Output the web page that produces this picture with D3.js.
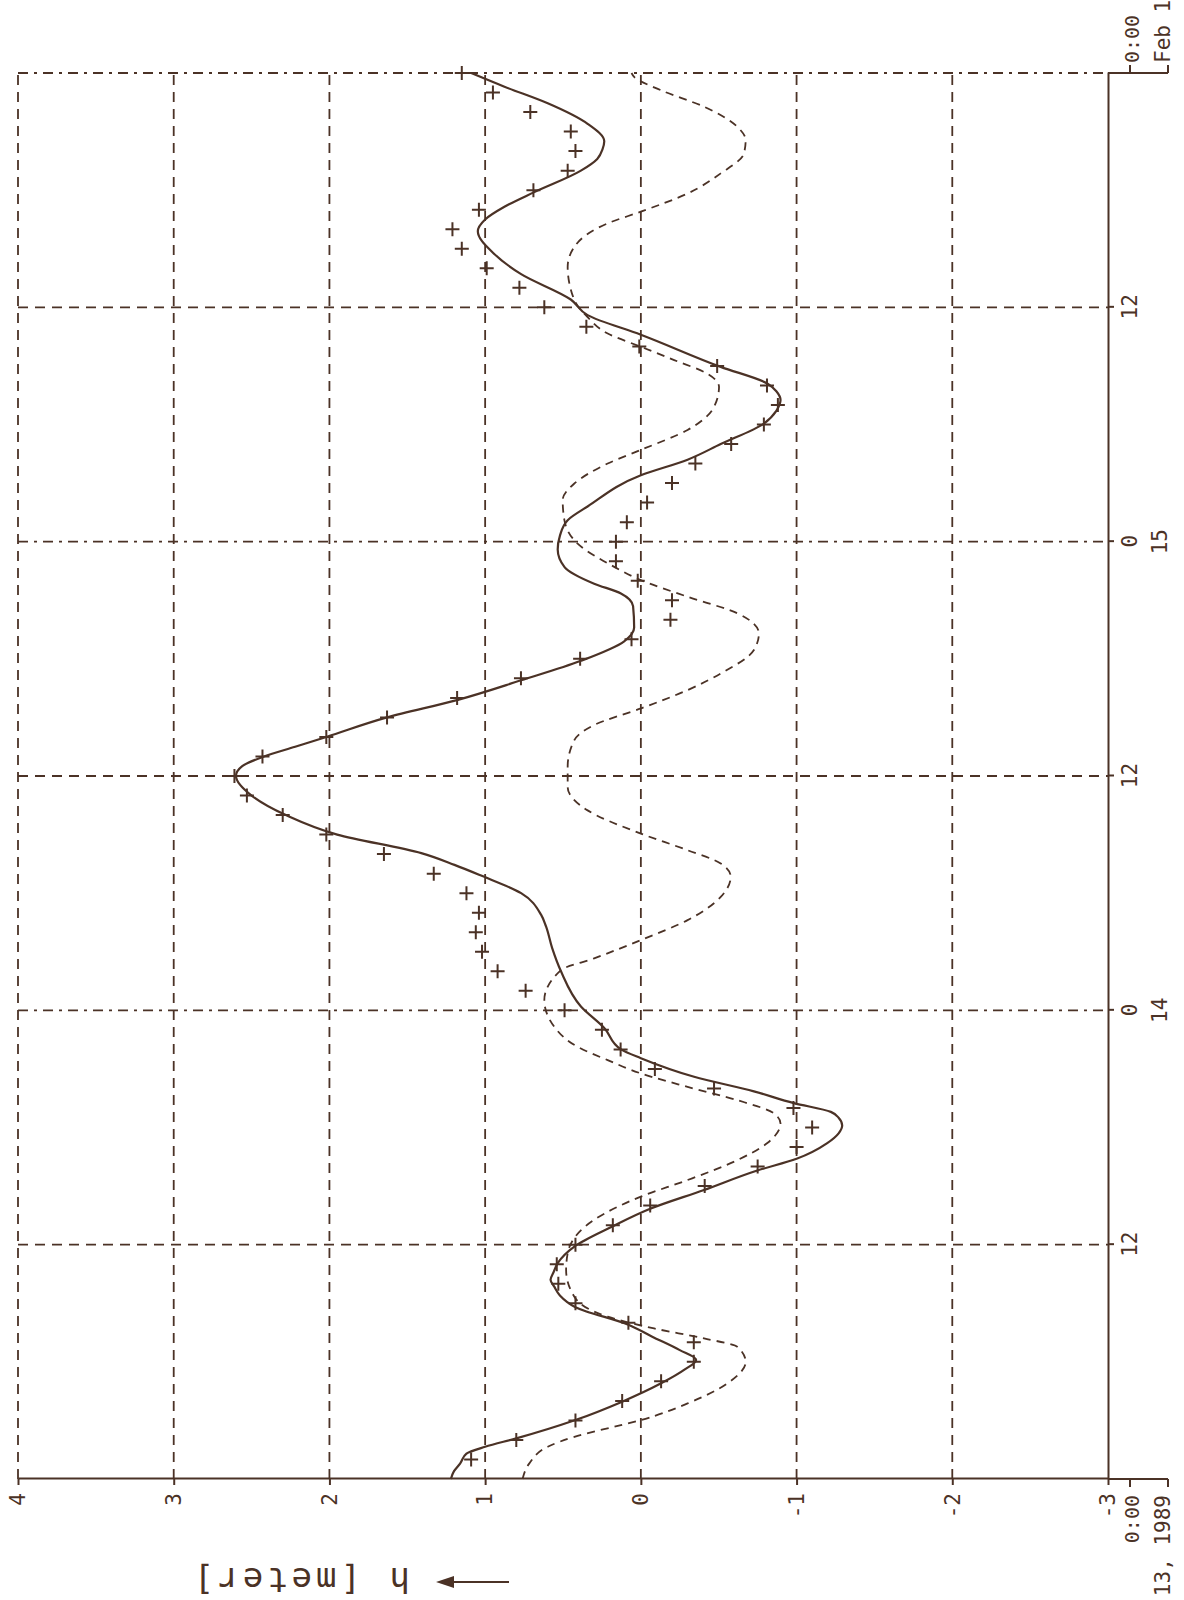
<!DOCTYPE html>
<html>
<head>
<meta charset="utf-8">
<script src="https://cdn.jsdelivr.net/npm/d3@7"></script>
<style>
	body { margin: 0; background: #fff; }
	svg { display: block; }
	text { font-family: "DejaVu Sans Mono", monospace; fill: #4b3226; }
</style>
</head>
<body>
<div id="chart"></div>
<script>
// water level h [m], Feb 13 - Feb 16 1989, hours counted from Feb 13 0:00

const levelTicks = [-3, -2, -1, 0, 1, 2, 3, 4];
const timeTicks = [0, 12, 24, 36, 48, 60, 72];
const timeLabels = ["0:00", "12", "0", "12", "0", "12", "0:00"];
const dayLabels = ["Feb 13, 1989", "", "14", "", "15", "", "Feb 16, 1989"];

// hourly observations (+)
const obsHours = [1, 2, 3, 4, 5, 6, 7, 8, 9, 10, 11, 12, 13, 14, 15, 16, 17, 18, 19, 20, 21, 22, 23, 24,
	25, 26, 27, 28, 29, 30, 31, 32, 33, 34, 35, 36, 37, 38, 39, 40, 41, 42, 43, 44, 45, 46, 47, 48,
	49, 50, 51, 52, 53, 54, 55, 56, 57, 58, 59, 60, 61, 62, 63, 64, 65, 66, 67, 68, 69, 70, 71, 72];
const obsLevel = [1.09, 0.80, 0.42, 0.12, -0.13, -0.34, -0.34, 0.08, 0.42, 0.53, 0.54, 0.42,
	0.18, -0.06, -0.41, -0.75, -1.00, -1.10, -0.98, -0.47, -0.09, 0.13, 0.25, 0.49,
	0.74, 0.92, 1.02, 1.06, 1.04, 1.12, 1.33, 1.65, 2.02, 2.30, 2.53, 2.61, 2.43, 2.02,
	1.63, 1.18, 0.77, 0.39, 0.06, -0.19, -0.20, 0.02, 0.16, 0.16, 0.09, -0.04,
	-0.20, -0.35, -0.58, -0.79, -0.88, -0.81, -0.49, 0.01, 0.35, 0.62, 0.78, 0.99,
	1.15, 1.21, 1.04, 0.69, 0.47, 0.42, 0.45, 0.71, 0.95, 1.15];

// computed water level (solid)
const modelHours = [0, 0.4, 0.8, 1.3, 1.65, 2.08, 3.02, 3.96, 4.9, 5.6, 6.1, 6.6, 7.3, 7.9, 8.8, 9.4,
	9.85, 10.2, 10.6, 11.05, 11.9, 12.9, 13.85, 14.8, 15.8, 16.4, 17.2, 17.7, 18.1, 18.5, 18.8,
	19.25, 19.85, 20.6, 21.55, 22.0, 23.1, 24.2, 26.0, 27.2, 28.3, 28.9, 30.0, 30.9, 31.45,
	32.05, 33, 34, 35, 36, 36.5, 37, 37.5, 38, 39, 39.9, 40.9, 41.9, 42.9, 43.6, 44.7, 45.35,
	45.85, 46.7, 47.6, 48.3, 49.1, 49.8, 51.4, 52.2, 53.0, 54.05, 54.7, 55.25, 55.7, 56.1,
	56.95, 58.6, 59.6, 60.4, 61.7, 62.8, 63.9, 64.5, 65.15, 65.9, 67.0, 67.6, 68.1, 68.5,
	69.4, 70.45, 71.3, 72];
const modelLevel = [1.22, 1.20, 1.16, 1.12, 1.00, 0.80, 0.42, 0.12, -0.13, -0.28, -0.355, -0.25,
	-0.07, 0.08, 0.42, 0.52, 0.556, 0.58, 0.56, 0.534, 0.427, 0.19, -0.064, -0.406, -0.748,
	-1.00, -1.197, -1.27, -1.293, -1.27, -1.22, -0.983, -0.726, -0.342, 0.0, 0.128, 0.235,
	0.385, 0.513, 0.57, 0.609, 0.641, 0.769, 1.026, 1.197, 1.41, 1.95, 2.28, 2.50, 2.60,
	2.56, 2.42, 2.22, 2.02, 1.63, 1.175, 0.769, 0.385, 0.107, 0.043, 0.05, 0.128, 0.30,
	0.49, 0.534, 0.52, 0.47, 0.342, 0.0, -0.30, -0.513, -0.79, -0.87, -0.897, -0.87,
	-0.812, -0.513, 0.0, 0.342, 0.45, 0.769, 0.95, 1.047, 1.00, 0.876, 0.684, 0.385,
	0.28, 0.246, 0.235, 0.342, 0.598, 0.876, 1.09];

// astronomical tide (dashed)
const tideHours = [0, 0.8, 1.65, 2.16, 2.76, 3.02, 3.87, 4.9, 6.0, 6.77, 7.2, 7.71, 8.31, 9.33,
	10.7, 11.56, 13.27, 14.46, 15.31, 16.33, 17.19, 18.21, 18.72, 19.4, 20.08, 20.77, 21.45,
	22.13, 23.16, 24.52, 26.06, 26.66, 27.6, 28.62, 29.81, 30.84, 31.52, 32.2, 33.05, 34.24,
	35.43, 36.48, 37.84, 38.61, 39.46, 40.4, 41.25, 42.45, 43.3, 44.33, 45.18, 46.03, 46.71,
	47.9, 49.1, 50.13, 50.98, 52.0, 52.7, 53.72, 54.9, 55.93, 56.6, 57.3, 57.98, 58.66,
	59.5, 60.37, 62.08, 63.1, 64.3, 64.9, 65.83, 66.86, 67.88, 68.56, 69.24, 70.27, 71.12,
	71.8, 72];
const tideLevel = [0.76, 0.716, 0.598, 0.427, 0.128, 0.0, -0.30, -0.556, -0.673, -0.62, -0.406,
	-0.085, 0.213, 0.427, 0.48, 0.47, 0.30, 0.0, -0.30, -0.62, -0.81, -0.897, -0.855, -0.62,
	-0.30, 0.0, 0.213, 0.406, 0.556, 0.62, 0.513, 0.30, 0.0, -0.30, -0.513, -0.577, -0.513,
	-0.30, 0.0, 0.342, 0.47, 0.47, 0.427, 0.30, 0.0, -0.30, -0.513, -0.726, -0.758, -0.62,
	-0.30, 0.0, 0.171, 0.406, 0.491, 0.502, 0.427, 0.213, 0.0, -0.30, -0.47, -0.502, -0.427,
	-0.214, 0.0, 0.213, 0.342, 0.427, 0.47, 0.427, 0.213, 0.0, -0.30, -0.513, -0.662, -0.673,
	-0.62, -0.406, -0.128, 0.043, 0.06];

const ink = "#4b3226";
const W = 1184, H = 1600;

const svg = d3.select("#chart").append("svg")
	.attr("width", W)
	.attr("height", H);

// the sheet is plotted upright and then turned a quarter to the left
const g = svg.append("g").attr("transform", "translate(0," + H + ") rotate(-90)");

const x = d3.scaleLinear().domain([0, 72]).range([121, 1527]);
const y = d3.scaleLinear().domain([-3, 4]).range([1108, 18]);

// grid
g.append("g").selectAll("line")
	.data(levelTicks.filter(d => d > -3))
	.join("line")
	.attr("x1", x(0)).attr("x2", x(72))
	.attr("y1", d => y(d)).attr("y2", d => y(d))
	.attr("stroke", ink).attr("stroke-width", 1.8)
	.attr("stroke-dasharray", "10,7");

g.append("g").selectAll("line")
	.data(timeTicks.filter(d => d > 0))
	.join("line")
	.attr("x1", d => x(d)).attr("x2", d => x(d))
	.attr("y1", y(4)).attr("y2", y(-3))
	.attr("stroke", ink).attr("stroke-width", 1.8)
	.attr("stroke-dasharray", d => d % 24 == 0 ? "10,6,3,6" : "10,7");

// level axis
const yAxis = g.append("g")
	.attr("transform", "translate(" + x(0) + ",0)")
	.call(d3.axisLeft(y).tickValues(levelTicks).tickSize(6).tickSizeOuter(0).tickPadding(8)
		.tickFormat(d => String(d)));

// time axis
const xAxis = g.append("g")
	.attr("transform", "translate(0," + y(-3) + ")")
	.call(d3.axisBottom(x).tickValues(timeTicks.slice(1, -1)).tickSize(6).tickSizeOuter(0).tickPadding(8)
		.tickFormat(d => timeLabels[timeTicks.indexOf(d)]));

[yAxis, xAxis].forEach(a => {
	a.selectAll("path, line").attr("stroke", ink).attr("stroke-width", 2);
	a.selectAll("text").attr("fill", ink).style("font-size", "21px")
		.style("font-family", "\"DejaVu Sans Mono\", monospace");
});

// day numbers under the 0 ticks
g.append("g").selectAll("text")
	.data(timeTicks.filter((d, i) => i > 0 && i < timeTicks.length - 1 && dayLabels[i] != ""))
	.join("text")
	.attr("x", d => x(d))
	.attr("y", 1167)
	.attr("text-anchor", "middle")
	.style("font-size", "21px")
	.text(d => dayLabels[timeTicks.indexOf(d)]);

// brackets at both ends of the time axis with date labels
[0, 72].forEach(t => {
	const out = t == 0 ? -8 : 8;
	g.append("path")
		.attr("d", "M" + x(t) + "," + y(-3) + "V1168" +
			"M" + x(t) + ",1130h" + out + "M" + x(t) + ",1168h" + out)
		.attr("fill", "none").attr("stroke", ink).attr("stroke-width", 2);
	const i = timeTicks.indexOf(t);
	const tx = t == 0 ? x(t) - 16 : x(t) + 10;
	const anchor = t == 0 ? "end" : "start";
	g.append("text").attr("x", tx).attr("y", 1139)
		.attr("text-anchor", anchor).style("font-size", "20px").text(timeLabels[i]);
	g.append("text").attr("x", tx).attr("y", 1170)
		.attr("text-anchor", anchor).style("font-size", "21px").text(dayLabels[i]);
});

// axis title with arrow
g.append("text")
	.attr("transform", "translate(23,410) rotate(-90)")
	.attr("text-anchor", "start")
	.attr("dominant-baseline", "middle")
	.style("font-size", "34px")
	.style("letter-spacing", "4px")
	.text("h [meter]");
g.append("line")
	.attr("x1", 18).attr("x2", 18).attr("y1", 509).attr("y2", 448)
	.attr("stroke", ink).attr("stroke-width", 2.2);
g.append("path")
	.attr("d", "M18,436L12,454L24,454Z")
	.attr("fill", ink);

// curves
const line = d3.line()
	.x(d => x(d[0]))
	.y(d => y(d[1]))
	.curve(d3.curveMonotoneX);

g.append("path")
	.datum(tideHours.map((t, i) => [t, tideLevel[i]]))
	.attr("d", line)
	.attr("fill", "none").attr("stroke", ink).attr("stroke-width", 1.8)
	.attr("stroke-dasharray", "8,6");

g.append("path")
	.datum(modelHours.map((t, i) => [t, modelLevel[i]]))
	.attr("d", line)
	.attr("fill", "none").attr("stroke", ink).attr("stroke-width", 2.2);

// observations
g.append("g").selectAll("path")
	.data(obsHours.map((t, i) => [t, obsLevel[i]]))
	.join("path")
	.attr("transform", d => "translate(" + x(d[0]) + "," + y(d[1]) + ")")
	.attr("d", "M-7,0H7M0,-7V7")
	.attr("stroke", ink).attr("stroke-width", 2);
</script>
</body>
</html>
